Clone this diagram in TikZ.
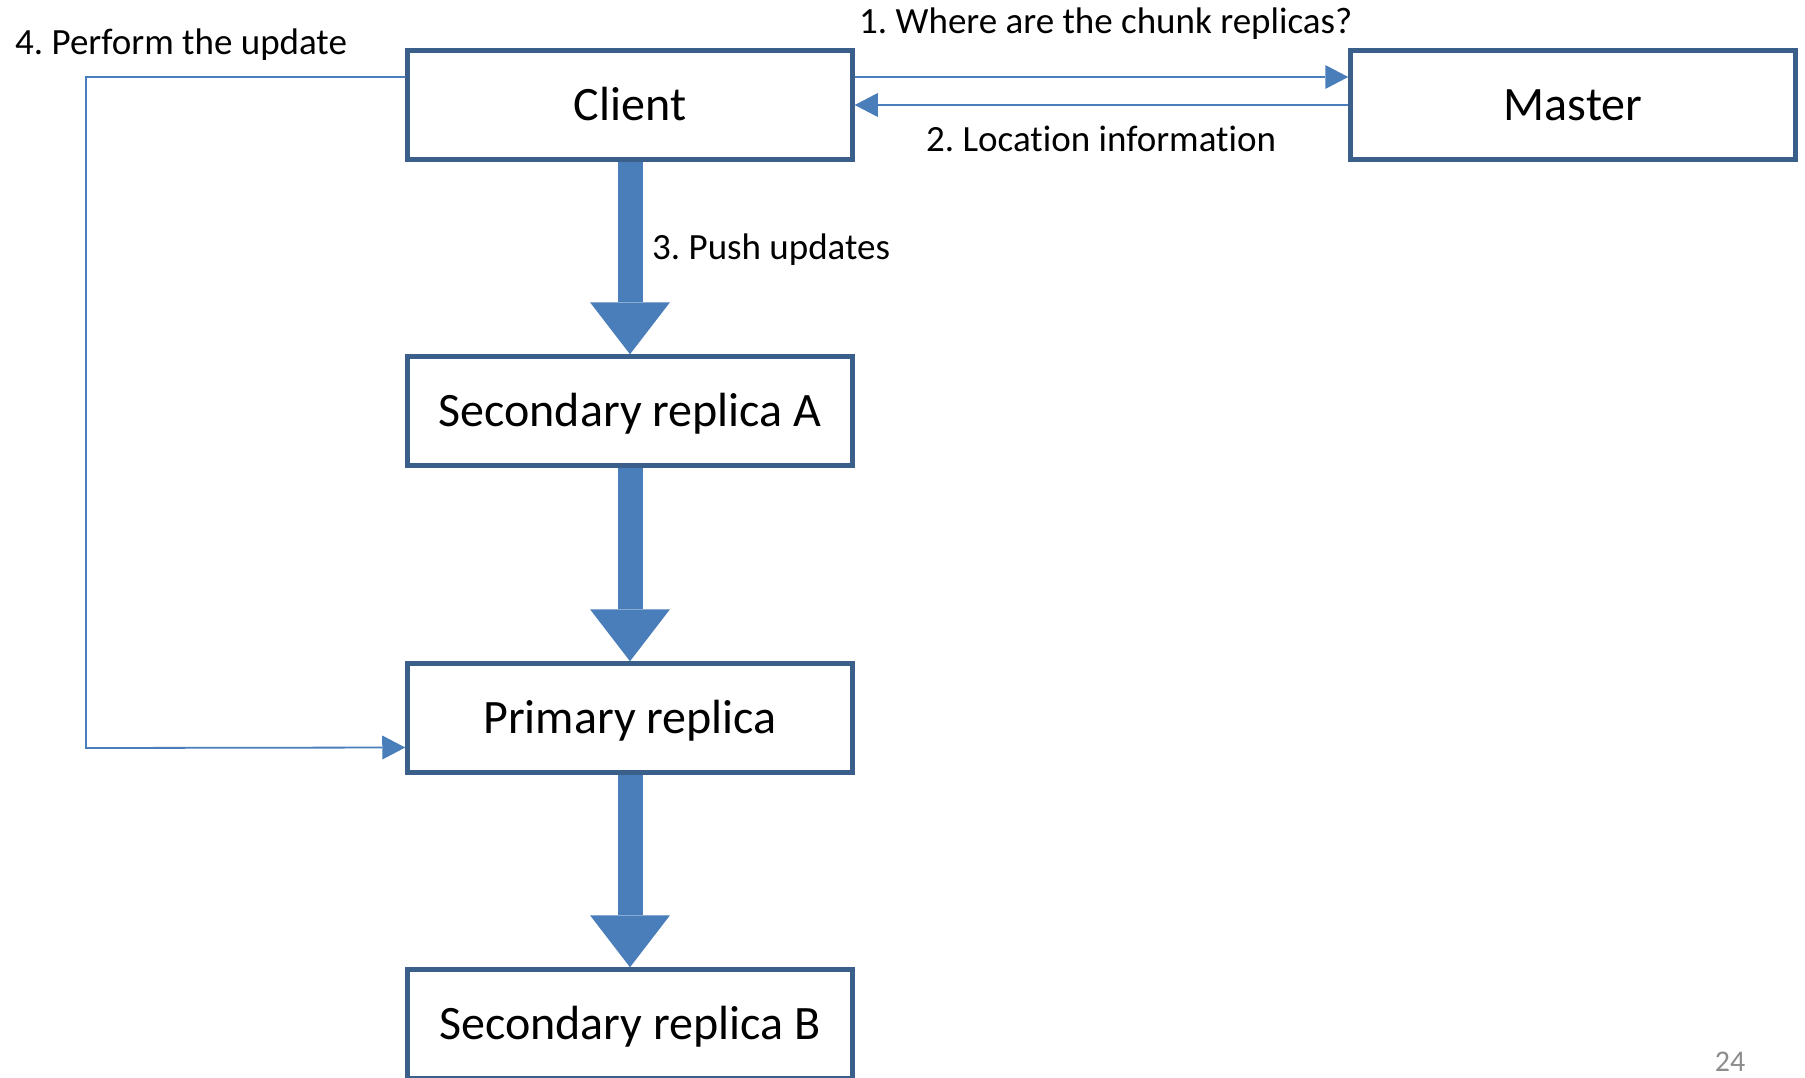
\documentclass[tikz,border=0pt]{standalone}
\usepackage{fontspec}
\setmainfont{Carlito}[Ligatures=NoCommon]
\usetikzlibrary{arrows.meta,positioning}
\definecolor{boxblue}{HTML}{3A5F8B}
\definecolor{flowblue}{HTML}{4A7EBB}
\definecolor{pagegray}{HTML}{8C8C8C}
\frenchspacing

\begin{document}
\begin{tikzpicture}[x=1pt,y=1pt,
		box/.style={draw=boxblue, line width=4.5pt, minimum width=445pt, minimum height=109pt,
			inner sep=0pt, text height=31pt, text depth=0pt, font=\fontsize{48}{58}\selectfont},
		note/.style={anchor=base west, inner sep=0pt, font=\fontsize{37}{44}\selectfont},
		push/.style={flowblue, line width=25pt, -{Triangle[width=80pt,length=52pt,line width=0pt]}},
		msg/.style={flowblue, line width=1.8pt, -{Triangle[width=24pt,length=23pt,line width=0pt]}}]
			
			\useasboundingbox (0,0) rectangle (1805,-1078);
			
			% Boxes
			\node[box] (client) at (630,-105) {Client};
			\node[box] (master) at (1573,-105) {Master};
			\node[box] (secA) at (630,-411) {Secondary replica A};
			\node[box] (primary) at (630,-718) {Primary replica};
			\node[box] (secB) at (630,-1024) {Secondary replica B};
			
			% Client <-> Master
			\draw[msg] ([yshift=28pt]client.east) -- ([yshift=28pt]master.west);
			\node[note] (askText) at (859,-34) {1. Where are the chunk replicas?};
			\draw[msg] (master.west) -- (client.east);
			\node[note] (locText) at (926,-152) {2. Location information};
			
			% Pushing the data down the chain
			\draw[push] (client) -- (secA);
			\node[note] (pushText) at (652,-259) {3. Push updates};
			\draw[push] (secA) -- (primary);
			\draw[push] (primary) -- (secB);
			
			% Client -> primary
			\coordinate (turn) at (86,-748);
			\draw[msg] ([yshift=28pt]client.west) -| (turn) -- ([yshift=-29.5pt]primary.west);
			\node[note] (performText) at (15,-55) {4. Perform the update};
			
			% Page number
			\node[anchor=base, inner sep=0pt, text=pagegray, font=\fontsize{30}{36}\selectfont] (pageNum) at (1730,-1071) {24};
			
		\end{tikzpicture}
\end{document}
